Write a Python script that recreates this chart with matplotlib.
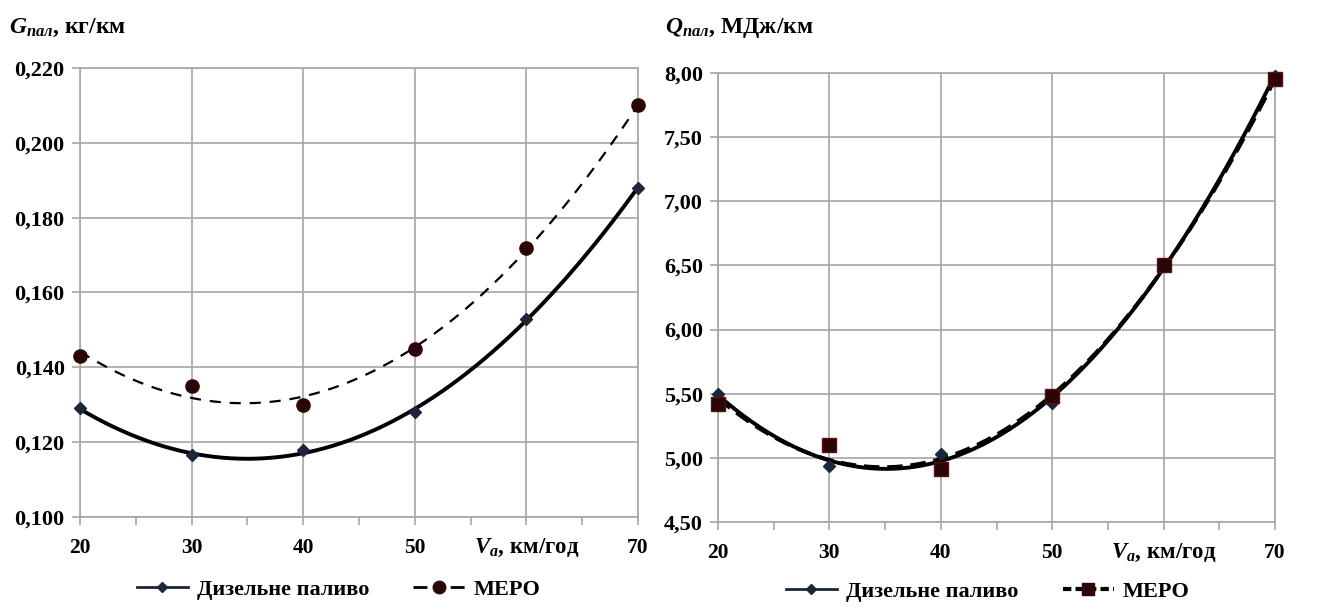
import matplotlib.pyplot as plt
import numpy as np
from matplotlib.lines import Line2D
from matplotlib.ticker import FuncFormatter, MultipleLocator

plt.rcParams['font.family'] = ['Liberation Serif', 'DejaVu Serif']
plt.rcParams['font.weight'] = 'bold'
plt.rcParams['mathtext.fontset'] = 'custom'
plt.rcParams['mathtext.rm'] = 'Liberation Serif:bold'
plt.rcParams['mathtext.it'] = 'Liberation Serif:italic:bold'
plt.rcParams['mathtext.bf'] = 'Liberation Serif:bold'

# speeds, km/h
speed = [20, 30, 40, 50, 60, 70]

# fuel consumption, kg/km
g_diesel = [0.129, 0.1165, 0.118, 0.128, 0.153, 0.188]
g_mepo = [0.143, 0.135, 0.130, 0.145, 0.172, 0.210]

# energy consumption, MJ/km
q_diesel = [5.50, 4.94, 5.03, 5.43, 6.50, 7.98]
q_mepo = [5.42, 5.10, 4.91, 5.48, 6.50, 7.95]

xtick_labels = ['20', '30', '40', '50', '', '70']
label_diesel = 'Дизельне паливо'
label_mepo = 'MEPO'

diesel_color = '#1b2638'
mepo_color = '#2a0606'
grid_color = '#a6a6a6'

fig = plt.figure(figsize=(13.17, 6.13), dpi=100)
ax1 = fig.add_axes([0.0607, 0.1566, 0.4237, 0.7325])
ax2 = fig.add_axes([0.5452, 0.1485, 0.4229, 0.7325])


def trend(x, y, deg=2):
    c = np.polyfit(x, y, deg)
    xs = np.linspace(min(x), max(x), 200)
    return xs, np.polyval(c, xs)


def style_axis(ax, ylo, yhi, ystep, fmt):
    ax.set_xlim(20, 70)
    ax.set_ylim(ylo, yhi)
    ax.xaxis.set_major_locator(MultipleLocator(10))
    ax.xaxis.set_minor_locator(MultipleLocator(5))
    ax.yaxis.set_major_locator(MultipleLocator(ystep))
    ax.yaxis.set_major_formatter(FuncFormatter(lambda v, p: (fmt % v).replace('.', ',')))
    ax.grid(True, which='major', color=grid_color, linewidth=1.2)
    ax.set_axisbelow(True)
    for s in ax.spines.values():
        s.set_color(grid_color)
        s.set_linewidth(1.2)
    ax.tick_params(axis='both', which='both', direction='out', color=grid_color, width=1.2)
    ax.tick_params(axis='x', which='both', length=6)
    ax.tick_params(axis='y', length=6, labelsize=16, pad=5)
    ax.set_xticks(speed)
    ax.set_xticklabels([])
    for x, t in zip(speed, xtick_labels):
        if t:
            ax.annotate(t, xy=(x, 0), xycoords=('data', 'axes fraction'),
                        xytext=(0, -22), textcoords='offset points',
                        ha='center', va='center', fontsize=15.5, fontweight='bold')
    ax.annotate(r'$V_a$, км/год', xy=(60, 0), xycoords=('data', 'axes fraction'),
                xytext=(0, -22), textcoords='offset points',
                ha='center', va='center', fontsize=16.5, fontweight='bold')


# left chart
xs, ys = trend(speed, g_diesel)
ax1.plot(xs, ys, color='black', linewidth=2.8)
xs, ys = trend(speed, g_mepo)
ax1.plot(xs, ys, color='black', linewidth=1.6, dashes=(5, 4))
ax1.plot(speed, g_diesel, linestyle='none', marker='D', markersize=6.5, color=diesel_color,
         clip_on=False, zorder=5)
ax1.plot(speed, g_mepo, linestyle='none', marker='o', markersize=9.5, color=mepo_color,
         clip_on=False, zorder=5)
style_axis(ax1, 0.100, 0.220, 0.020, '%.3f')
fig.text(0.007, 0.955, r'$G_{пал}$, кг/км', fontsize=17, fontweight='bold', va='center')

h1 = [Line2D([], [], color=diesel_color, linewidth=2, marker='D', markersize=5),
      Line2D([], [], color='black', linewidth=2, dashes=(5, 8.4), marker='o',
             markersize=9, markerfacecolor=mepo_color, markeredgecolor=mepo_color)]
fig.legend(h1, [label_diesel, label_mepo], loc='center', bbox_to_anchor=(0.257, 0.038),
           ncol=2, frameon=False, fontsize=16, handlelength=2.3, handletextpad=0.4,
           columnspacing=2.0)

# right chart
xs, ys = trend(speed, q_diesel)
ax2.plot(xs, ys, color='black', linewidth=2.8)
xs, ys = trend(speed, q_mepo)
ax2.plot(xs, ys, color='black', linewidth=2.8, dashes=(4, 2))
ax2.plot(speed, q_diesel, linestyle='none', marker='D', markersize=6.5, color=diesel_color,
         clip_on=False, zorder=5)
ax2.plot(speed, q_mepo, linestyle='none', marker='s', markersize=9.5, color=mepo_color,
         markeredgecolor='#5a1010', clip_on=False, zorder=5)
style_axis(ax2, 4.50, 8.00, 0.50, '%.2f')
fig.text(0.505, 0.955, r'$Q_{пал}$, МДж/км', fontsize=17, fontweight='bold', va='center')

h2 = [Line2D([], [], color=diesel_color, linewidth=2, marker='D', markersize=5),
      Line2D([], [], color='black', linewidth=3, dashes=(2, 1), marker='s',
             markersize=8, markerfacecolor=mepo_color, markeredgecolor=mepo_color)]
fig.legend(h2, [label_diesel, label_mepo], loc='center', bbox_to_anchor=(0.75, 0.035),
           ncol=2, frameon=False, fontsize=16, handlelength=2.3, handletextpad=0.4,
           columnspacing=2.0)

fig.savefig('out.png', dpi=100)
